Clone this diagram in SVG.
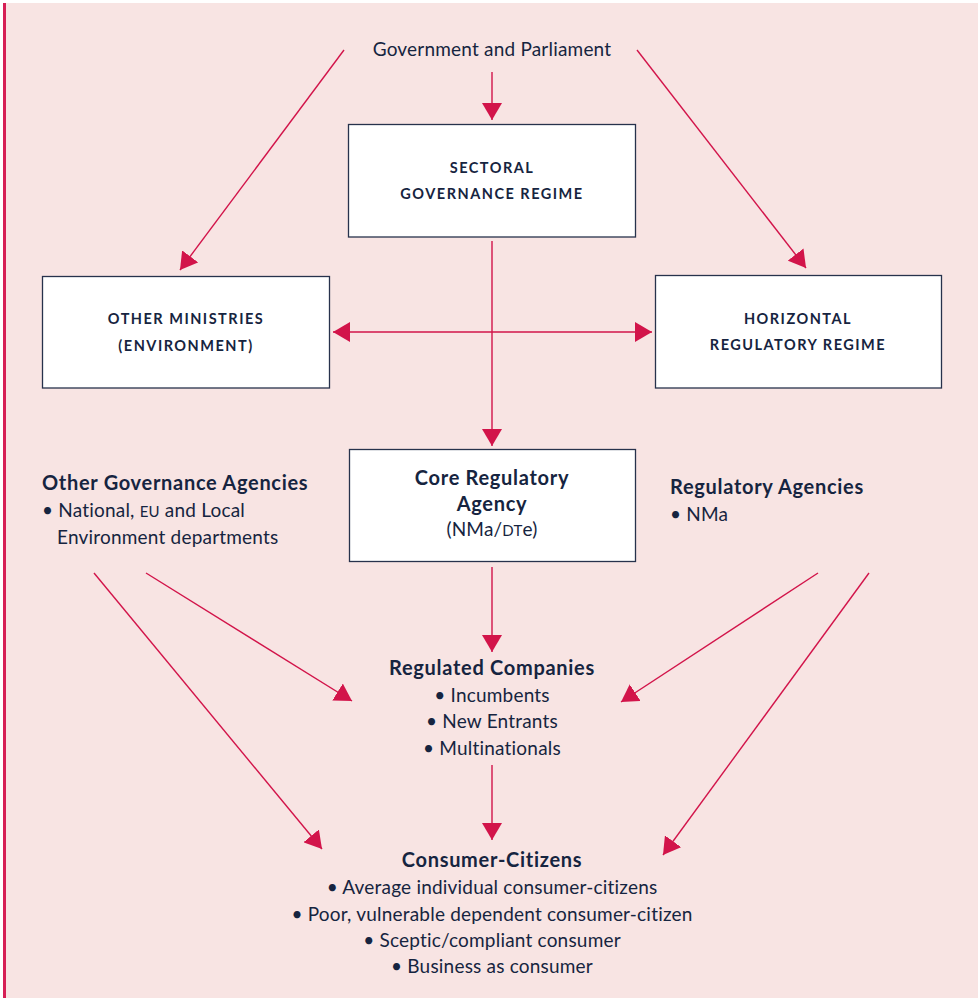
<svg xmlns="http://www.w3.org/2000/svg" width="978" height="998" viewBox="0 0 978 998">
<defs>
<style>
.t{font-family:Lato,"Open Sans","Liberation Sans",sans-serif;fill:#162440;}
.r{font-size:19px;letter-spacing:0.2px;}
.b{font-size:20px;font-weight:bold;letter-spacing:0.7px;}
.cap{font-size:14.5px;font-weight:bold;letter-spacing:1.5px;}
.box{fill:#ffffff;stroke:#27324c;stroke-width:1.3;}
.c{stroke:#d2144a;stroke-width:1.4;fill:none;marker-end:url(#ah);}
</style>
<marker id="ah" viewBox="0 0 17 20" refX="17" refY="10" markerWidth="17" markerHeight="20" markerUnits="userSpaceOnUse" orient="auto-start-reverse">
<path d="M0,0 L17,10 L0,20 z" fill="#d2144a"/>
</marker>
</defs>
<rect x="0" y="0" width="978" height="998" fill="#ffffff"/>
<rect x="5" y="3" width="973" height="995" fill="#f8e4e3"/>
<rect x="3" y="3" width="3" height="995" fill="#d61f55"/>

<g id="connectors">
<line class="c" x1="492" y1="72" x2="492" y2="120"/>
<line class="c" x1="492" y1="241" x2="492" y2="446"/>
<line class="c" x1="333" y1="332" x2="652" y2="332" style="marker-start:url(#ah)"/>
<line class="c" x1="492" y1="567" x2="492" y2="652"/>
<line class="c" x1="492" y1="765" x2="492" y2="840"/>
<line class="c" x1="344" y1="50" x2="180" y2="270"/>
<line class="c" x1="637" y1="50" x2="806" y2="268"/>
<line class="c" x1="146" y1="573" x2="352" y2="701"/>
<line class="c" x1="94" y1="573" x2="322" y2="849"/>
<line class="c" x1="818" y1="573" x2="621" y2="702"/>
<line class="c" x1="869" y1="573" x2="663" y2="855"/>
</g>

<g id="gov">
<text class="t r" x="492" y="56" text-anchor="middle">Government and Parliament</text>
</g>

<g id="sectoral">
<rect class="box" x="348.5" y="124.5" width="287" height="112.5"/>
<text class="t cap" x="492" y="173" text-anchor="middle">SECTORAL</text>
<text class="t cap" x="492" y="199" text-anchor="middle">GOVERNANCE REGIME</text>
</g>

<g id="ministries">
<rect class="box" x="42.5" y="276.5" width="287" height="111.5"/>
<text class="t cap" x="186" y="324" text-anchor="middle">OTHER MINISTRIES</text>
<text class="t cap" x="186" y="351" text-anchor="middle">(ENVIRONMENT)</text>
</g>

<g id="horizontal">
<rect class="box" x="655.5" y="275.5" width="286" height="112.5"/>
<text class="t cap" x="798" y="324" text-anchor="middle">HORIZONTAL</text>
<text class="t cap" x="798" y="350" text-anchor="middle">REGULATORY REGIME</text>
</g>

<g id="core">
<rect class="box" x="349.5" y="449.5" width="286" height="112"/>
<text class="t b" x="492" y="485" text-anchor="middle">Core Regulatory</text>
<text class="t b" x="492" y="511" text-anchor="middle">Agency</text>
<text class="t r" x="492" y="536" text-anchor="middle">(NMa/<tspan font-size="15">DT</tspan>e)</text>
</g>

<g id="other-agencies">
<text class="t b" x="42" y="490">Other Governance Agencies</text>
<text class="t r" x="42" y="517">• National, <tspan font-size="15">EU</tspan> and Local</text>
<text class="t r" x="57" y="544">Environment departments</text>
</g>

<g id="reg-agencies">
<text class="t b" x="670" y="494">Regulatory Agencies</text>
<text class="t r" x="670" y="521">• NMa</text>
</g>

<g id="companies">
<text class="t b" x="492" y="675" text-anchor="middle">Regulated Companies</text>
<text class="t r" x="492" y="702" text-anchor="middle">• Incumbents</text>
<text class="t r" x="492" y="728" text-anchor="middle">• New Entrants</text>
<text class="t r" x="492" y="755" text-anchor="middle">• Multinationals</text>
</g>

<g id="consumers">
<text class="t b" x="492" y="867" text-anchor="middle">Consumer-Citizens</text>
<text class="t r" x="492" y="894" text-anchor="middle">• Average individual consumer-citizens</text>
<text class="t r" x="492" y="921" text-anchor="middle">• Poor, vulnerable dependent consumer-citizen</text>
<text class="t r" x="492" y="947" text-anchor="middle">• Sceptic/compliant consumer</text>
<text class="t r" x="492" y="973" text-anchor="middle">• Business as consumer</text>
</g>
</svg>
